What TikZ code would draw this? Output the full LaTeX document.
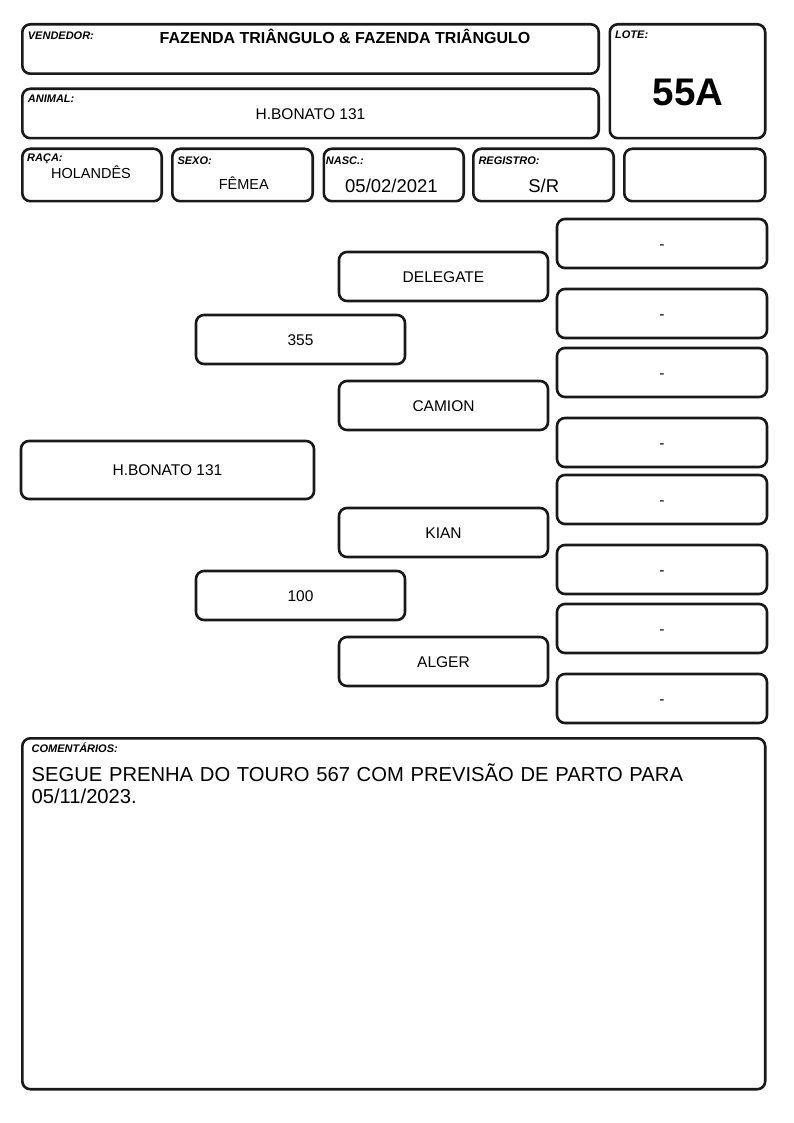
\documentclass[tikz,border=0pt]{standalone}
\usepackage{fontspec}
\setmainfont{Liberation Sans}
\begin{document}
\begin{tikzpicture}[x=1pt,y=-1pt,
  box/.style={draw=black!90, line width=2.6pt, rounded corners=8pt, inner sep=0pt},
  pbox/.style={box, minimum width=209pt, minimum height=49pt,
    font=\fontsize{15.5}{17}\selectfont, text height=11pt, text depth=0pt},
  rbox/.style={pbox, minimum width=210pt},
  lbl/.style={anchor=base west, inner sep=0pt, font=\fontsize{11}{12}\selectfont\bfseries\itshape},
  val/.style={anchor=base, inner sep=0pt}
]
\useasboundingbox (0,0) rectangle (794,1123);
% header boxes
\node[box, minimum width=576.4pt, minimum height=49.4pt] (vend) at (310.5,49) {};
\node[box, minimum width=576.4pt, minimum height=49.4pt] (anim) at (310.5,113.5) {};
\node[box, minimum width=155.4pt, minimum height=113.9pt] (lote) at (687.5,81.25) {};
\node[box, minimum width=139.4pt, minimum height=52.4pt] (raca) at (92,175) {};
\node[box, minimum width=140.4pt, minimum height=52.4pt] (sexo) at (242.5,175) {};
\node[box, minimum width=139.9pt, minimum height=52.4pt] (nasc) at (393.75,175) {};
\node[box, minimum width=140.4pt, minimum height=52.4pt] (reg) at (543.5,175) {};
\node[box, minimum width=140.9pt, minimum height=52.4pt] (blank) at (694.75,175) {};
% header labels and values
\node[lbl] (lvend) at (27.7,39.3) {VENDEDOR:};
\node[val, font=\fontsize{16}{18}\selectfont\bfseries] (tvend) at (345,43.3) {FAZENDA TRIÂNGULO \& FAZENDA TRIÂNGULO};
\node[lbl] (lanim) at (27.7,102.7) {ANIMAL:};
\node[val, font=\fontsize{15.5}{17}\selectfont] (tanim) at (310.5,119.3) {H.BONATO 131};
\node[lbl] (llote) at (615,38.3) {LOTE:};
\node[val, font=\fontsize{38.5}{40}\selectfont\bfseries] (tlote) at (688,106) {55A};
\node[lbl] (lraca) at (27,161.5) {RAÇA:};
\node[val, font=\fontsize{14.5}{16}\selectfont] (traca) at (91,178.3) {HOLANDÊS};
\node[lbl] (lsexo) at (177.3,164.7) {SEXO:};
\node[val, font=\fontsize{14.5}{16}\selectfont] (tsexo) at (243.8,189.3) {FÊMEA};
\node[lbl] (lnasc) at (325.7,164.7) {NASC.:};
\node[val, font=\fontsize{18.5}{20}\selectfont] (tnasc) at (391.5,192.7) {05/02/2021};
\node[lbl] (lreg) at (478.3,165) {REGISTRO:};
\node[val, font=\fontsize{18.5}{20}\selectfont] (treg) at (543.8,192.7) {S/R};
% pedigree
\node[pbox, minimum width=293pt, minimum height=58pt] (p0) at (167.5,470) {H.BONATO 131};
\node[pbox] (s) at (300.5,339.5) {355};
\node[pbox] (d) at (300.5,595.5) {100};
\node[pbox] (ss) at (443.5,276.5) {DELEGATE};
\node[pbox] (sd) at (443.5,405.5) {CAMION};
\node[pbox] (ds) at (443.5,532.5) {KIAN};
\node[pbox] (dd) at (443.5,661.5) {ALGER};
\node[rbox] (r1) at (662,243.5) {-};
\node[rbox] (r2) at (662,313.5) {-};
\node[rbox] (r3) at (662,372.5) {-};
\node[rbox] (r4) at (662,442.5) {-};
\node[rbox] (r5) at (662,499.5) {-};
\node[rbox] (r6) at (662,569.5) {-};
\node[rbox] (r7) at (662,628.5) {-};
\node[rbox] (r8) at (662,698.5) {-};
% comments
\node[box, minimum width=742.9pt, minimum height=350.9pt] (com) at (393.75,913.75) {};
\node[lbl] (lcom) at (31.4,752.3) {COMENTÁRIOS:};
\node[anchor=base west, inner sep=0pt, text width=720pt, align=left,
  font=\fontsize{20.2}{22.3}\selectfont] (tcom) at (31.4,781) {SEGUE PRENHA DO TOURO 567 COM PREVISÃO DE PARTO PARA\\05/11/2023.};
\end{tikzpicture}
\end{document}
